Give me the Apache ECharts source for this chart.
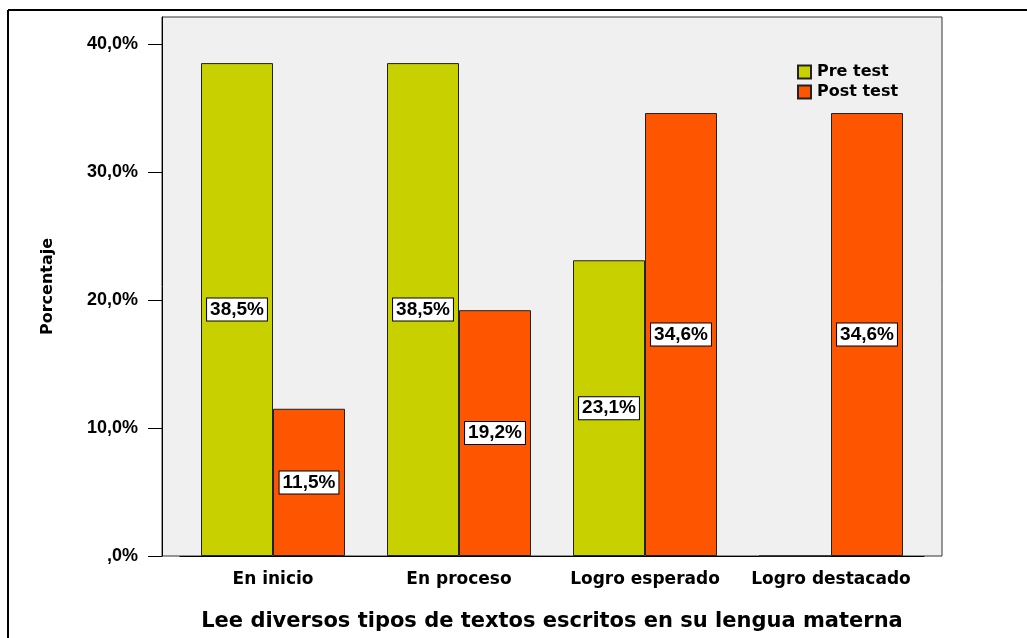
<!DOCTYPE html>
<html>
<head>
<meta charset="utf-8">
<script src="https://cdn.jsdelivr.net/npm/echarts@6/dist/echarts.min.js"></script>
<style>
  html, body { margin: 0; padding: 0; background: #fff; }
  #chart { width: 1027px; height: 638px; }
</style>
</head>
<body>
<div id="chart"></div>
<script>
// datos
const categorias = ['En inicio', 'En proceso', 'Logro esperado', 'Logro destacado'];
const preTest = [38.5, 38.5, 23.1, 0];
const postTest = [11.5, 19.2, 34.6, 34.6];
const yTicks = [0, 10, 20, 30, 40];

const pct = v => (v === 0 ? ',0' : v.toFixed(1).replace('.', ',')) + '%';

const etiqueta = {
  show: true,
  position: 'inside',
  formatter: p => pct(p.value),
  backgroundColor: '#fff',
  borderColor: '#000',
  borderWidth: 1,
  padding: [2, 3, 1, 3],
  color: '#000',
  fontFamily: 'Liberation Sans',
  fontWeight: 'bold',
  fontSize: 19
};

const datos = arr => arr.map(v => v === 0 ? { value: v, label: { show: false } } : v);

const chart = echarts.init(document.getElementById('chart'));

const option = {
  animation: false,
  backgroundColor: '#fff',
  legend: {
    left: 792,
    top: 59,
    orient: 'vertical',
    icon: 'rect',
    itemWidth: 13,
    itemHeight: 13,
    itemGap: 4,
    textStyle: { fontFamily: 'DejaVu Sans', fontWeight: 'bold', fontSize: 16, color: '#000', padding: [0, 0, 0, 1] },
    data: ['Pre test', 'Post test']
  },
  grid: [
    { left: 180, right: 103, top: 17, bottom: 82 },
    // marco y fondo del area del grafico
    { left: 162, right: 85, top: 17, bottom: 82, show: true, backgroundColor: '#f0f0f0', borderColor: '#333', borderWidth: 1, z: 0 }
  ],
  xAxis: [
    {
      type: 'category',
      data: categorias,
      axisLine: { lineStyle: { color: '#000', width: 1 } },
      axisTick: { alignWithLabel: true, interval: 0, length: 11, lineStyle: { color: '#000' } },
      axisLabel: { interval: 0, margin: 15, color: '#000', fontFamily: 'DejaVu Sans', fontWeight: 'bold', fontSize: 17 },
      name: 'Lee diversos tipos de textos escritos en su lengua materna',
      nameLocation: 'middle',
      nameGap: 55,
      nameTextStyle: { color: '#000', fontFamily: 'DejaVu Sans', fontWeight: 'bold', fontSize: 21 }
    },
    { type: 'category', gridIndex: 1, show: false, data: [] }
  ],
  yAxis: [
    {
      type: 'value',
      min: 0,
      max: 42.1,
      interval: 10,
      offset: 18,
      axisLine: { show: true, lineStyle: { color: '#000' } },
      axisTick: { show: true, length: 14, lineStyle: { color: '#000' } },
      splitLine: { show: false },
      axisLabel: {
        margin: 24,
        showMaxLabel: false,
        color: '#000',
        fontFamily: 'Liberation Sans',
        fontWeight: 'bold',
        fontSize: 18,
        formatter: v => yTicks.includes(v) ? pct(v) : ''
      },
      name: 'Porcentaje',
      nameLocation: 'middle',
      nameGap: 106,
      nameTextStyle: { color: '#000', fontFamily: 'DejaVu Sans', fontWeight: 'bold', fontSize: 16 }
    },
    { type: 'value', gridIndex: 1, show: false }
  ],
  series: [
    {
      name: 'Pre test',
      type: 'bar',
      data: datos(preTest),
      barWidth: 72,
      barGap: '0%',
      itemStyle: { color: '#c8d000', borderColor: '#222', borderWidth: 1 },
      label: etiqueta
    },
    {
      name: 'Post test',
      type: 'bar',
      data: datos(postTest),
      barWidth: 72,
      barGap: '0%',
      itemStyle: { color: '#fd5500', borderColor: '#222', borderWidth: 1 },
      label: etiqueta
    }
  ],
  graphic: [
    { type: 'line', shape: { x1: 8, y1: 10, x2: 1027, y2: 10 }, style: { stroke: '#000', lineWidth: 2 } },
    { type: 'line', shape: { x1: 8, y1: 10, x2: 8, y2: 638 }, style: { stroke: '#000', lineWidth: 2 } }
  ]
};

chart.setOption(option);
</script>
</body>
</html>
